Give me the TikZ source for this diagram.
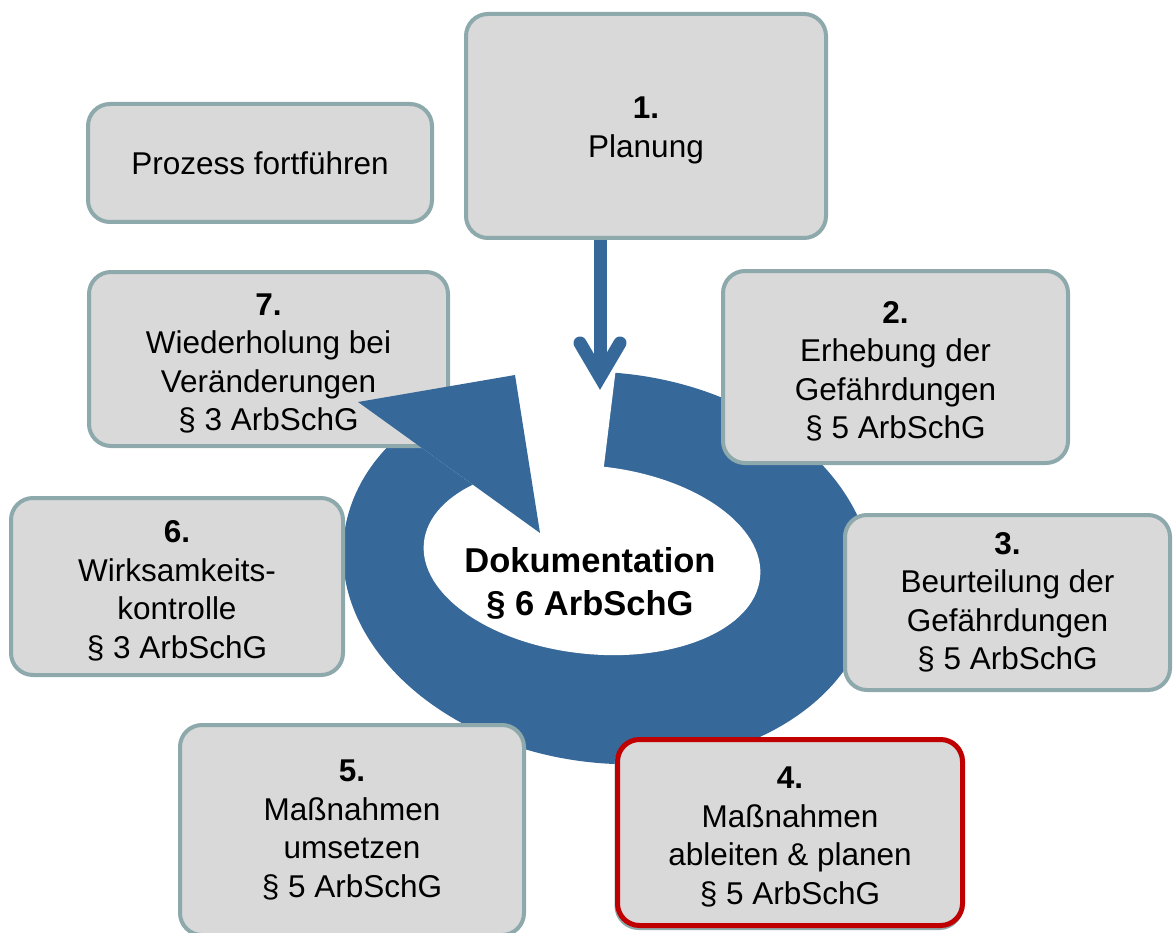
\documentclass[tikz,border=0pt]{standalone}
\usepackage{fontspec}
\setmainfont{Liberation Sans}
\definecolor{ringblue}{RGB}{54,104,154}
\definecolor{boxfill}{RGB}{217,217,217}
\definecolor{boxline}{RGB}{142,169,172}
\definecolor{alertred}{RGB}{192,0,0}
% invisible strut that gives the first line of a step its full height
\newcommand\stepstrut{\rule{0pt}{31pt}}
\begin{document}
\begin{tikzpicture}[x=1pt,y=-1pt,
  box/.style={draw=boxline, line width=4pt, fill=boxfill, rounded corners=22pt,
    inner sep=0pt, align=center, text=black, font=\fontsize{31.5}{38.5}\selectfont},
  alertbox/.style={box, draw=alertred, line width=5pt},
  shadowbox/.style={draw=boxline, line width=4pt, fill=boxline, rounded corners=22pt, inner sep=0pt},
  shaft/.style={draw=ringblue, line width=13pt},
  barb/.style={draw=ringblue, line width=13pt, line cap=round, line join=miter},
  doctext/.style={align=center, inner sep=0pt, text=black, font=\bfseries\fontsize{34.5}{43}\selectfont}]
\useasboundingbox (0,0) rectangle (1174,933);
\clip (0,0) rectangle (1174,933);
\fill[white] (0,0) rectangle (1174,933);

% ring of the cycle: outer blue ellipse, white hole
\fill[ringblue, rotate around={-7:(608,568)}] (608,568) ellipse [x radius=266, y radius=195];
\fill[white, rotate around={-6:(592,560)}] (592,560) ellipse [x radius=169, y radius=94];
% gap between the ring's start and its arrowhead
\fill[white] (400,432) -- (540,533) -- (601,490) -- (620,335) -- (520,338) -- (400,380) -- cycle;

% step 7 sits under the arrowhead
\node[box, minimum width=359pt, minimum height=174pt] (b7) at (268.5,359)
  {\textbf{7.}\stepstrut\\Wiederholung bei\\Veränderungen\\§ 3 ArbSchG};

% arrowhead closing the cycle
\fill[ringblue] (358,402) -- (515,375) -- (540,533) -- cycle;

% remaining steps
\node[box, minimum width=344pt, minimum height=118pt] (pf) at (260,163) {Prozess fortführen};
\node[box, minimum width=360pt, minimum height=224pt] (b1) at (646,126) {\textbf{1.}\stepstrut\\Planung};
\node[box, minimum width=345pt, minimum height=192pt] (b2) at (895.5,367)
  {\textbf{2.}\stepstrut\\Erhebung der\\Gefährdungen\\§ 5 ArbSchG};
\node[box, minimum width=325pt, minimum height=175pt] (b3) at (1007.5,602.5)
  {\textbf{3.}\\Beurteilung der\\Gefährdungen\\§ 5 ArbSchG};
\node[shadowbox, minimum width=345pt, minimum height=186pt] (b4s) at (789,835) {};
\node[alertbox, minimum width=345pt, minimum height=186pt] (b4) at (790,832.5)
  {\textbf{4.}\stepstrut\\Maßnahmen\\ableiten \& planen\\§ 5 ArbSchG};
\node[box, minimum width=344pt, minimum height=210pt] (b5) at (352,830)
  {\textbf{5.}\\Maßnahmen\\umsetzen\\§ 5 ArbSchG};
\node[box, minimum width=332pt, minimum height=177pt] (b6) at (177,586.5)
  {\textbf{6.}\stepstrut\\Wirksamkeits-\\kontrolle\\§ 3 ArbSchG};

% centre label
\node[doctext] (doc) at (590,583) {Dokumentation\\§ 6 ArbSchG};

% arrow from planning into the cycle
\coordinate (tip) at (600,377);
\draw[shaft] (b1.south -| tip) -- (tip);
\draw[barb] (tip) ++(-20,-34) -- (tip) -- ++(20,-34);
\end{tikzpicture}
\end{document}
